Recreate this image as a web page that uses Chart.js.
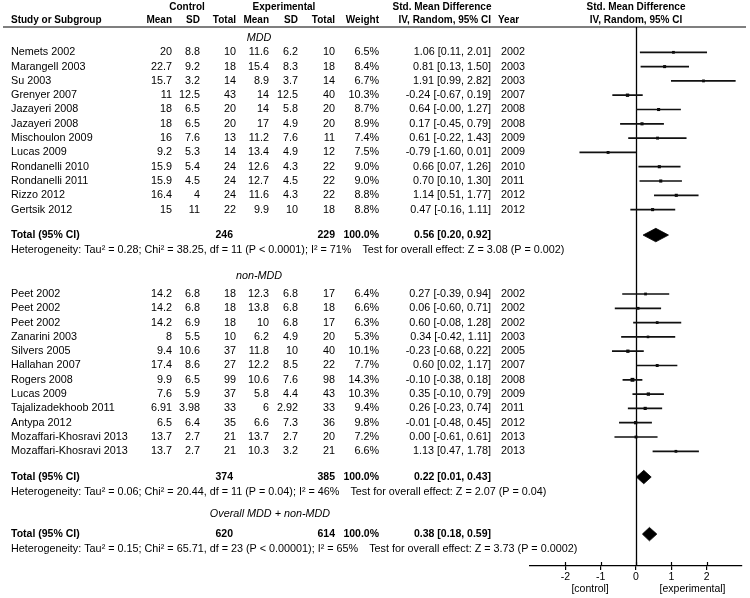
<!DOCTYPE html>
<html>
<head>
<meta charset="utf-8">
<script src="https://cdn.jsdelivr.net/npm/chart.js@4.4.1/dist/chart.umd.min.js"></script>
<style>
  html, body { margin: 0; padding: 0; background: #fff; }
  #wrap { width: 750px; height: 598px; }
</style>
</head>
<body>
<div id="wrap"><canvas id="forest" width="750" height="598"></canvas></div>
<script>
// MDD subgroup
const mddStudies = ["Nemets 2002", "Marangell 2003", "Su 2003", "Grenyer 2007", "Jazayeri 2008", "Jazayeri 2008",
  "Mischoulon 2009", "Lucas 2009", "Rondanelli 2010", "Rondanelli 2011", "Rizzo 2012", "Gertsik 2012"];
const mddCtrlMean = [20, 22.7, 15.7, 11, 18, 18, 16, 9.2, 15.9, 15.9, 16.4, 15];
const mddCtrlSD = [8.8, 9.2, 3.2, 12.5, 6.5, 6.5, 7.6, 5.3, 5.4, 4.5, 4, 11];
const mddCtrlN = [10, 18, 14, 43, 20, 20, 13, 14, 24, 24, 24, 22];
const mddExpMean = [11.6, 15.4, 8.9, 14, 14, 17, 11.2, 13.4, 12.6, 12.7, 11.6, 9.9];
const mddExpSD = [6.2, 8.3, 3.7, 12.5, 5.8, 4.9, 7.6, 4.9, 4.3, 4.5, 4.3, 10];
const mddExpN = [10, 18, 14, 40, 20, 20, 11, 12, 22, 22, 22, 18];
const mddWeight = [6.5, 8.4, 6.7, 10.3, 8.7, 8.9, 7.4, 7.5, 9.0, 9.0, 8.8, 8.8];
const mddSmd = [1.06, 0.81, 1.91, -0.24, 0.64, 0.17, 0.61, -0.79, 0.66, 0.70, 1.14, 0.47];
const mddLo = [0.11, 0.13, 0.99, -0.67, -0.00, -0.45, -0.22, -1.60, 0.07, 0.10, 0.51, -0.16];
const mddHi = [2.01, 1.50, 2.82, 0.19, 1.27, 0.79, 1.43, 0.01, 1.26, 1.30, 1.77, 1.11];
const mddYear = [2002, 2003, 2003, 2007, 2008, 2008, 2009, 2009, 2010, 2011, 2012, 2012];

// non-MDD subgroup
const nonStudies = ["Peet 2002", "Peet 2002", "Peet 2002", "Zanarini 2003", "Silvers 2005", "Hallahan 2007",
  "Rogers 2008", "Lucas 2009", "Tajalizadekhoob 2011", "Antypa 2012", "Mozaffari-Khosravi 2013", "Mozaffari-Khosravi 2013"];
const nonCtrlMean = [14.2, 14.2, 14.2, 8, 9.4, 17.4, 9.9, 7.6, 6.91, 6.5, 13.7, 13.7];
const nonCtrlSD = [6.8, 6.8, 6.9, 5.5, 10.6, 8.6, 6.5, 5.9, 3.98, 6.4, 2.7, 2.7];
const nonCtrlN = [18, 18, 18, 10, 37, 27, 99, 37, 33, 35, 21, 21];
const nonExpMean = [12.3, 13.8, 10, 6.2, 11.8, 12.2, 10.6, 5.8, 6, 6.6, 13.7, 10.3];
const nonExpSD = [6.8, 6.8, 6.8, 4.9, 10, 8.5, 7.6, 4.4, 2.92, 7.3, 2.7, 3.2];
const nonExpN = [17, 18, 17, 20, 40, 22, 98, 43, 33, 36, 20, 21];
const nonWeight = [6.4, 6.6, 6.3, 5.3, 10.1, 7.7, 14.3, 10.3, 9.4, 9.8, 7.2, 6.6];
const nonSmd = [0.27, 0.06, 0.60, 0.34, -0.23, 0.60, -0.10, 0.35, 0.26, -0.01, 0.00, 1.13];
const nonLo = [-0.39, -0.60, -0.08, -0.42, -0.68, 0.02, -0.38, -0.10, -0.23, -0.48, -0.61, 0.47];
const nonHi = [0.94, 0.71, 1.28, 1.11, 0.22, 1.17, 0.18, 0.79, 0.74, 0.45, 0.61, 1.78];
const nonYear = [2002, 2002, 2002, 2003, 2005, 2007, 2008, 2009, 2011, 2012, 2013, 2013];

// pooled results: MDD, non-MDD, overall
const totalLabels = ["MDD", "non-MDD", "Overall MDD + non-MDD"];
const totalCtrlN = [246, 374, 620];
const totalExpN = [229, 385, 614];
const totalSmd = [0.56, 0.22, 0.38];
const totalLo = [0.20, 0.01, 0.18];
const totalHi = [0.92, 0.43, 0.59];
const hetText = [
  "Heterogeneity: Tau² = 0.28; Chi² = 38.25, df = 11 (P < 0.0001); I² = 71%",
  "Heterogeneity: Tau² = 0.06; Chi² = 20.44, df = 11 (P = 0.04); I² = 46%",
  "Heterogeneity: Tau² = 0.15; Chi² = 65.71, df = 23 (P < 0.00001); I² = 65%"
];
const effectText = [
  "Test for overall effect: Z = 3.08 (P = 0.002)",
  "Test for overall effect: Z = 2.07 (P = 0.04)",
  "Test for overall effect: Z = 3.73 (P = 0.0002)"
];
const xTicks = [-2, -1, 0, 1, 2];

const FONT = '"Liberation Sans", Arial, Helvetica, sans-serif';

// row positions (1 unit = one study line)
const groups = [
  { names: mddStudies, cm: mddCtrlMean, cs: mddCtrlSD, cn: mddCtrlN, em: mddExpMean, es: mddExpSD, en: mddExpN,
    w: mddWeight, smd: mddSmd, lo: mddLo, hi: mddHi, yr: mddYear, labelY: 0, firstY: 1, totalY: 13.78, hetY: 14.83 },
  { names: nonStudies, cm: nonCtrlMean, cs: nonCtrlSD, cn: nonCtrlN, em: nonExpMean, es: nonExpSD, en: nonExpN,
    w: nonWeight, smd: nonSmd, lo: nonLo, hi: nonHi, yr: nonYear, labelY: 16.64, firstY: 17.9, totalY: 30.70, hetY: 31.75 }
];
const overallRows = { labelY: 33.29, totalY: 34.69, hetY: 35.73 };
const totalRowY = [groups[0].totalY, groups[1].totalY, overallRows.totalY];
const diamondHalf = 0.47;

const fmt = v => (Object.is(v, -0) ? "-" : "") + v.toFixed(2);
const ciStr = (e, l, h) => fmt(e) + " [" + fmt(l) + ", " + fmt(h) + "]";

// datasets
const ciData = [];
const pointData = [];
const pointSizes = [];
groups.forEach(g => {
  g.names.forEach((n, i) => {
    const y = g.firstY + i;
    ciData.push({ x: g.lo[i], y: y }, { x: g.hi[i], y: y }, { x: null, y: null });
    pointData.push({ x: g.smd[i], y: y });
    pointSizes.push(1.3 + g.w[i] * 0.1);
  });
});

const datasets = [
  { data: ciData, showLine: true, borderColor: "#111", borderWidth: 1.7, pointRadius: 0, spanGaps: false },
  { data: pointData, showLine: false, pointStyle: "rect", pointRadius: pointSizes, backgroundColor: "#000", borderWidth: 0 }
];
totalSmd.forEach((e, k) => {
  const y = totalRowY[k];
  datasets.push({
    data: [{ x: totalLo[k], y: y }, { x: e, y: y - diamondHalf }, { x: totalHi[k], y: y }],
    showLine: true, borderColor: "#000", borderWidth: 0.8, pointRadius: 0, tension: 0, fill: false
  });
  datasets.push({
    data: [{ x: totalLo[k], y: y }, { x: e, y: y + diamondHalf }, { x: totalHi[k], y: y }],
    showLine: true, borderColor: "#000", borderWidth: 0.8, pointRadius: 0, tension: 0,
    fill: "-1", backgroundColor: "#000"
  });
});

const COL = { name: 11, cMean: 172, cSD: 200, cN: 236, eMean: 269, eSD: 298, eN: 335, wt: 379, ci: 491, year: 501 };

// size: header bold, total bold, regular
function txt(ctx, s, x, y, align, style) {
  const sizes = { head: "bold 10px ", bold: "bold 10.5px ", italic: "italic 10.8px " };
  ctx.font = (sizes[style] || "10.8px ") + FONT;
  ctx.textAlign = align;
  ctx.fillText(s, x, y);
  return ctx.measureText(s).width;
}

const tablePlugin = {
  id: "table",
  beforeDatasetsDraw(chart) {
    const ctx = chart.ctx, x = chart.scales.x, area = chart.chartArea;
    ctx.save();
    ctx.strokeStyle = "#000";
    ctx.lineWidth = 1.3;
    const x0 = Math.round(x.getPixelForValue(0)) + 0.5;
    ctx.beginPath();
    ctx.moveTo(x0, area.top);
    ctx.lineTo(x0, area.bottom);
    ctx.stroke();
    ctx.restore();
  },
  afterDraw(chart) {
    const ctx = chart.ctx, x = chart.scales.x, y = chart.scales.y, area = chart.chartArea;
    ctx.save();
    ctx.fillStyle = "#000";
    ctx.textBaseline = "middle";

    // header
    const h1 = 7, h2 = 20.5;
    txt(ctx, "Control", 187, h1, "center", "head");
    txt(ctx, "Experimental", 284, h1, "center", "head");
    txt(ctx, "Std. Mean Difference", 442, h1, "center", "head");
    txt(ctx, "Std. Mean Difference", x.getPixelForValue(0), h1, "center", "head");
    txt(ctx, "Study or Subgroup", COL.name, h2, "left", "head");
    txt(ctx, "Mean", COL.cMean, h2, "right", "head");
    txt(ctx, "SD", COL.cSD, h2, "right", "head");
    txt(ctx, "Total", COL.cN, h2, "right", "head");
    txt(ctx, "Mean", COL.eMean, h2, "right", "head");
    txt(ctx, "SD", COL.eSD, h2, "right", "head");
    txt(ctx, "Total", COL.eN, h2, "right", "head");
    txt(ctx, "Weight", COL.wt, h2, "right", "head");
    txt(ctx, "IV, Random, 95% CI", COL.ci, h2, "right", "head");
    txt(ctx, "Year", COL.year - 3, h2, "left", "head");
    txt(ctx, "IV, Random, 95% CI", x.getPixelForValue(0), h2, "center", "head");

    ctx.strokeStyle = "#000";
    ctx.lineWidth = 1.2;
    ctx.beginPath();
    ctx.moveTo(3, area.top);
    ctx.lineTo(746, area.top);
    ctx.stroke();

    // subgroup rows
    groups.forEach((g, k) => {
      txt(ctx, totalLabels[k], 259, y.getPixelForValue(g.labelY), "center", "italic");
      g.names.forEach((n, i) => {
        const py = y.getPixelForValue(g.firstY + i);
        txt(ctx, n, COL.name, py, "left");
        txt(ctx, String(g.cm[i]), COL.cMean, py, "right");
        txt(ctx, String(g.cs[i]), COL.cSD, py, "right");
        txt(ctx, String(g.cn[i]), COL.cN, py, "right");
        txt(ctx, String(g.em[i]), COL.eMean, py, "right");
        txt(ctx, String(g.es[i]), COL.eSD, py, "right");
        txt(ctx, String(g.en[i]), COL.eN, py, "right");
        txt(ctx, g.w[i].toFixed(1) + "%", COL.wt, py, "right");
        txt(ctx, ciStr(g.smd[i], g.lo[i], g.hi[i]), COL.ci, py, "right");
        txt(ctx, String(g.yr[i]), COL.year, py, "left");
      });
    });
    txt(ctx, totalLabels[2], 270, y.getPixelForValue(overallRows.labelY), "center", "italic");

    // totals
    const hetRowY = [groups[0].hetY, groups[1].hetY, overallRows.hetY];
    totalSmd.forEach((e, k) => {
      const py = y.getPixelForValue(totalRowY[k]);
      txt(ctx, "Total (95% CI)", COL.name, py, "left", "bold");
      txt(ctx, String(totalCtrlN[k]), COL.cN - 3, py, "right", "bold");
      txt(ctx, String(totalExpN[k]), COL.eN, py, "right", "bold");
      txt(ctx, "100.0%", COL.wt, py, "right", "bold");
      txt(ctx, ciStr(e, totalLo[k], totalHi[k]), COL.ci, py, "right", "bold");
      const hy = y.getPixelForValue(hetRowY[k]);
      const w = txt(ctx, hetText[k], COL.name, hy, "left");
      txt(ctx, effectText[k], COL.name + w + 11, hy, "left");
    });

    // upper halves of axis ticks and axis captions
    ctx.lineWidth = 1.2;
    xTicks.forEach(v => {
      const px = Math.round(x.getPixelForValue(v)) + 0.5;
      ctx.beginPath();
      ctx.moveTo(px, area.bottom - 4);
      ctx.lineTo(px, area.bottom);
      ctx.stroke();
    });
    ctx.font = "10.5px " + FONT;
    ctx.textAlign = "center";
    ctx.fillText("[control]", x.getPixelForValue(-1.3), 589);
    ctx.fillText("[experimental]", x.getPixelForValue(1.6), 589);
    ctx.restore();
  }
};

new Chart(document.getElementById("forest"), {
  type: "scatter",
  data: { datasets: datasets },
  options: {
    responsive: false,
    animation: false,
    events: [],
    layout: { padding: { left: 530, right: 8, top: 27, bottom: 0 } },
    plugins: { legend: { display: false }, tooltip: { enabled: false } },
    scales: {
      x: {
        type: "linear", min: -3, max: 3, position: "bottom",
        afterBuildTicks: s => { s.ticks = xTicks.map(v => ({ value: v })); },
        afterFit: s => { s.height = 32; },
        ticks: { font: { family: FONT, size: 10.5 }, color: "#000", padding: 1 },
        grid: { drawOnChartArea: false, drawTicks: true, tickLength: 4, color: "#000", lineWidth: 1.2 },
        border: { color: "#000", width: 1.3 }
      },
      y: { type: "linear", min: -0.77, max: 36.92, reverse: true, display: false }
    }
  },
  plugins: [tablePlugin]
});
</script>
</body>
</html>
